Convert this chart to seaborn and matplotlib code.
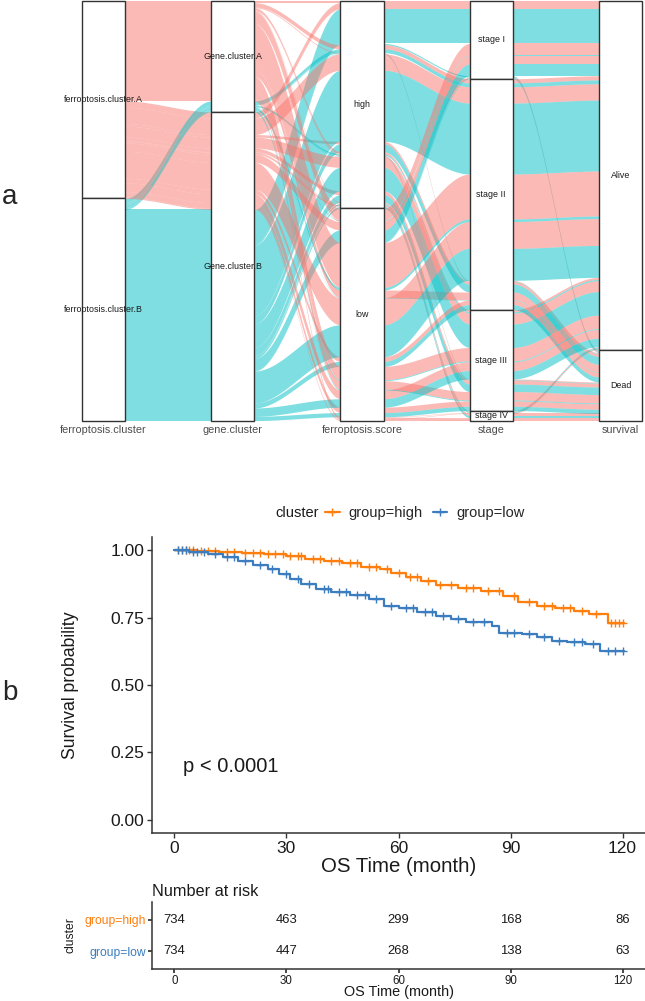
import numpy as np
import matplotlib
matplotlib.use("Agg")
import matplotlib.pyplot as plt
import seaborn as sns
from matplotlib.patches import Rectangle
from matplotlib.lines import Line2D

# ---------------- panel a: alluvial data (one row per combination) ----------------
axis_titles = ["ferroptosis.cluster", "gene.cluster", "ferroptosis.score", "stage", "survival"]
ferro_levels = ["A", "B"]
gene_levels = ["A", "B"]
score_levels = ["high", "low"]
stage_levels = ["I", "II", "III", "IV"]
surv_levels = ["Alive", "Dead"]

ferro_cluster = ("A A B B A A A A B B B B A A A A B B B B A A A A B B "
                 "A A A B B B A A A A B B B B A A A A B B B B A A A A B").split()
gene_cluster = ("A B B B A A B B A A B B A A B B A A B B A A B B B B "
                "A A B A B B A A B B A A B B A A B B A A B B A A B B B").split()
ferro_score = ["high"] * 26 + ["low"] * 27
stage = (["I"] * 4 + ["II"] * 8 + ["III"] * 8 + ["IV"] * 6 +
         ["I"] * 6 + ["II"] * 8 + ["III"] * 8 + ["IV"] * 5)
survival = ("Alive Alive Alive Dead " + "Alive Dead " * 11 +
            "Alive Dead Alive Alive Alive Dead " + "Alive Dead " * 8 +
            "Alive Dead Alive Dead Dead").split()
n_patients = [4, 15, 82, 3, 10, 2, 39, 6, 9, 1, 169, 19, 5, 2, 26, 9, 3, 1, 56, 18,
              1, 1, 1, 4, 3, 5,
              28, 2, 20, 1, 28, 2, 107, 18, 64, 11, 6, 1, 76, 12, 32, 20, 21, 13, 2, 2,
              20, 10, 1, 5, 1, 2, 1]

stratum_labels = [["ferroptosis.cluster.A", "ferroptosis.cluster.B"],
                  ["Gene.cluster.A", "Gene.cluster.B"],
                  ["high", "low"],
                  ["stage I", "stage II", "stage III", "stage IV"],
                  ["Alive", "Dead"]]

# ---------------- panel b: Kaplan-Meier data ----------------
high_t = [0, 6, 12, 18, 24, 30, 35, 40, 45, 50, 55, 58, 62, 66, 70, 76, 82, 88, 92,
          97, 102, 107, 111, 116, 120.5]
high_s = [1.0, .997, .993, .99, .985, .978, .97, .962, .952, .94, .93, .918, .90, .885,
          .872, .862, .848, .832, .81, .795, .785, .775, .762, .732, .732]
low_t = [0, 4, 9, 13, 17, 21, 25, 28, 31, 34, 38, 42, 47, 52, 56, 60, 65, 70, 74, 78,
         85, 87, 93, 97, 101, 105, 110, 114, 120.5]
low_s = [1.0, .995, .985, .975, .962, .945, .93, .912, .895, .875, .858, .846, .835,
         .82, .795, .785, .772, .758, .745, .735, .718, .695, .688, .678, .662, .658,
         .652, .625, .625]
high_cens = [1, 2, 3, 4, 5, 7, 9, 11, 14, 16, 19, 21, 23, 25, 27, 29, 31, 33, 34, 37,
             39, 42, 44, 47, 49, 52, 54, 57, 60, 63, 65, 68, 71, 74, 78, 80, 84, 87,
             91, 95, 99, 101, 104, 106, 109, 113, 117, 118, 119, 120]
low_cens = [1, 2, 3, 5, 6, 8, 11, 14, 16, 19, 23, 26, 30, 33, 36, 40, 41, 44, 46, 49,
            51, 54, 58, 62, 64, 67, 69, 72, 76, 80, 83, 89, 91, 95, 99, 103, 107, 109,
            112, 116, 118, 120]
risk_times = [0, 30, 60, 90, 120]
risk_high = [734, 463, 299, 168, 86]
risk_low = [734, 447, 268, 138, 63]

pink, cyan = "#F8766D", "#00BFC4"
c_high, c_low = "#FF7F0E", "#3B7DBF"

sns.set_theme(style="ticks")
plt.rcParams["font.family"] = ["Liberation Sans", "DejaVu Sans"]

W, H = 645, 1001
fig = plt.figure(figsize=(W / 100, H / 100), dpi=100)


def box(l, t, r, b):
    return [l / W, 1 - b / H, (r - l) / W, (b - t) / H]


# ---------------- alluvial ----------------
ax = fig.add_axes(box(82, 1, 642, 421))
cols = [ferro_cluster, gene_cluster, ferro_score, stage, survival]
levs = [ferro_levels, gene_levels, score_levels, stage_levels, surv_levels]
M = np.array([[levs[j].index(cols[j][r]) for j in range(5)] for r in range(len(n_patients))])
n = np.array(n_patients, dtype=float)
total = n.sum()
# lode order inside each stratum: zigzag over the other axes, nearest first
zig = {0: [0, 1, 2, 3, 4], 1: [1, 0, 2, 3, 4], 2: [2, 3, 1, 4, 0],
       3: [3, 4, 2, 1, 0], 4: [4, 3, 2, 1, 0]}
pos = np.zeros((len(n), 5, 2))
for i in range(5):
    order = sorted(range(len(n)), key=lambda r: tuple(M[r, j] for j in zig[i]) + (r,))
    cum = 0.0
    for r in order:
        pos[r, i] = (cum, cum + n[r])
        cum += n[r]

w = 1 / 3
t = np.linspace(0, 1, 80)
s = t * t * (3 - 2 * t)
for r in range(len(n)):
    col = pink if M[r, 0] == 0 else cyan
    for i in range(4):
        x = np.linspace(i + 1 + w / 2, i + 2 - w / 2, 80)
        top = pos[r, i, 0] + (pos[r, i + 1, 0] - pos[r, i, 0]) * s
        bot = pos[r, i, 1] + (pos[r, i + 1, 1] - pos[r, i, 1]) * s
        ax.fill_between(x, top, bot, color=col, alpha=0.5, lw=0)

for i in range(5):
    cum = 0.0
    for k, lab in enumerate(stratum_labels[i]):
        cnt = n[M[:, i] == k].sum()
        ax.add_patch(Rectangle((i + 1 - w / 2, cum), w, cnt, facecolor="white",
                               edgecolor="#333333", lw=1.0, zorder=3, clip_on=False))
        ax.text(i + 1, cum + cnt / 2, lab, ha="center", va="center", fontsize=6.4,
                color="#1a1a1a", zorder=4)
        cum += cnt

ax.set_xlim(1 - w / 2, 5 + w / 2)
ax.set_ylim(total, 0)
ax.set_xticks(range(1, 6), labels=axis_titles)
ax.set_yticks([])
ax.tick_params(axis="x", length=0, labelsize=7.8, colors="#4D4D4D", pad=3)
for sp in ax.spines.values():
    sp.set_visible(False)
ax.set_facecolor("white")

# ---------------- Kaplan-Meier ----------------
axb = fig.add_axes(box(152, 537, 645, 833))
for tt, ss, cens, c in [(high_t, high_s, high_cens, c_high), (low_t, low_s, low_cens, c_low)]:
    sns.lineplot(x=tt, y=ss, drawstyle="steps-post", color=c, lw=1.6, ax=axb,
                 estimator=None)
    idx = np.searchsorted(tt, cens, side="right") - 1
    axb.plot(cens, np.array(ss)[idx], ls="none", marker="+", ms=5.5, mew=1.0, color=c)

axb.set_xlim(-6, 126)
axb.set_ylim(-0.05, 1.05)
axb.set_xticks([0, 30, 60, 90, 120])
axb.set_yticks([0, 0.25, 0.5, 0.75, 1.0], labels=["0.00", "0.25", "0.50", "0.75", "1.00"])
axb.tick_params(labelsize=12.5, colors="#333333", labelcolor="#1a1a1a", length=3.5,
                width=1.0, pad=2)
axb.set_xlabel("OS Time (month)", fontsize=14.7, labelpad=1, color="#1a1a1a")
axb.set_ylabel("Survival probability", fontsize=12.7, color="#1a1a1a")
axb.yaxis.set_label_coords(-0.148, 0.5)
sns.despine(ax=axb)
for sp in ["left", "bottom"]:
    axb.spines[sp].set_color("#333333")
    axb.spines[sp].set_linewidth(1.1)
axb.text(2.4, 0.197, "p < 0.0001", fontsize=14.5, va="center", ha="left",
         color="#1a1a1a")

handles = [Line2D([0], [0], color=c_high, lw=1.6, marker="+", ms=5.5, mew=1.0),
           Line2D([0], [0], color=c_low, lw=1.6, marker="+", ms=5.5, mew=1.0)]
fig.text(275 / W, 1 - 513 / H, "cluster", fontsize=10.5, va="center", color="#1a1a1a")
fig.legend(handles, ["group=high", "group=low"], ncol=2, loc="center left",
           bbox_to_anchor=(325 / W, 1 - 513 / H), frameon=False, fontsize=10.5,
           handlelength=1.0, handletextpad=0.6, columnspacing=0.7, borderpad=0,
           borderaxespad=0)

# ---------------- risk table ----------------
axt = fig.add_axes(box(152, 902, 645, 969))
for yv, vals in [(1, risk_high), (0, risk_low)]:
    for tm, v in zip(risk_times, vals):
        axt.text(tm, yv, str(v), ha="center", va="center", fontsize=9.4, color="#1a1a1a")
axt.set_xlim(-6, 126)
axt.set_ylim(-0.55, 1.55)
axt.set_xticks(risk_times)
axt.set_yticks([1, 0], labels=["group=high", "group=low"])
axt.tick_params(axis="x", labelsize=8.3, length=3, pad=1, colors="#333333",
                labelcolor="#1a1a1a")
axt.tick_params(axis="y", labelsize=8.7, length=3, pad=1.5, colors="#333333")
axt.get_yticklabels()[0].set_color(c_high)
axt.get_yticklabels()[1].set_color(c_low)
axt.set_xlabel("OS Time (month)", fontsize=10.4, labelpad=-1, color="#1a1a1a")
axt.set_ylabel("cluster", fontsize=8.7, color="#1a1a1a")
axt.yaxis.set_label_coords(-0.154, 0.5)
axt.set_title("Number at risk", loc="left", fontsize=11.7, pad=4, color="#1a1a1a")
sns.despine(ax=axt)
for sp in ["left", "bottom"]:
    axt.spines[sp].set_color("#333333")
    axt.spines[sp].set_linewidth(1.1)

fig.text(2 / W, 1 - 197 / H, "a", fontsize=20, va="center", ha="left")
fig.text(2 / W, 1 - 693 / H, "b", fontsize=20, va="center", ha="left")

fig.savefig("out.png", dpi=100, facecolor="white")
